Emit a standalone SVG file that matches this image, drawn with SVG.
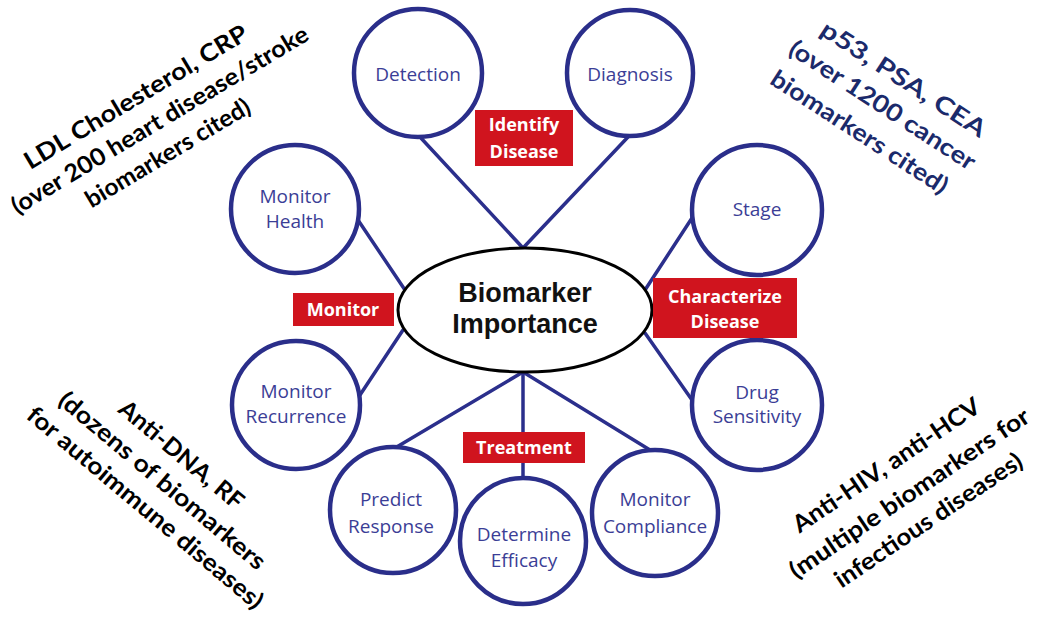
<svg xmlns="http://www.w3.org/2000/svg" width="1037" height="617" viewBox="0 0 1037 617">
<style>
.bg{fill:#ffffff}
.conn{stroke:#2b2f8c;stroke-width:3.5;fill:none;stroke-linecap:round}
.circ{fill:#ffffff;stroke:#2a2e8a;stroke-width:4.5}
.ct{font-family:"Open Sans","Noto Sans",sans-serif;font-size:19px;fill:#3b3e96;text-anchor:middle}
.box{fill:#d0141e}
.bt{font-family:"Open Sans","Noto Sans",sans-serif;font-size:18px;font-weight:700;fill:#ffffff;text-anchor:middle}
.ell{fill:#ffffff;stroke:#000000;stroke-width:3}
.et{font-family:"Liberation Sans",Arial,sans-serif;font-size:27px;font-weight:700;fill:#111111;text-anchor:middle}
.note{font-family:Lato,"Open Sans",sans-serif;font-size:24px;font-weight:700;fill:#000000;text-anchor:middle}
.navy{fill:#1b2a6b}
</style>
<rect class="bg" x="0" y="0" width="1037" height="617"/>
<g id="connectors">
<line class="conn" x1="420" y1="137" x2="523" y2="248"/>
<line class="conn" x1="628" y1="137" x2="523" y2="248"/>
<line class="conn" x1="358" y1="220" x2="405" y2="290"/>
<line class="conn" x1="358" y1="398" x2="403" y2="330"/>
<line class="conn" x1="692" y1="218" x2="645" y2="290"/>
<line class="conn" x1="692" y1="400" x2="645" y2="333"/>
<line class="conn" x1="395" y1="448" x2="523" y2="372"/>
<line class="conn" x1="523" y1="372" x2="523" y2="478"/>
<line class="conn" x1="650" y1="450" x2="523" y2="372"/>
</g>
<g id="center">
<ellipse class="ell" cx="525" cy="310" rx="127" ry="62"/>
<text class="et" x="525" y="302">Biomarker</text>
<text class="et" x="525" y="333">Importance</text>
</g>
<g id="detection"><circle class="circ" cx="418" cy="73" r="64"/><text class="ct" x="418" y="81">Detection</text></g>
<g id="diagnosis"><circle class="circ" cx="630" cy="73" r="63"/><text class="ct" x="630" y="81">Diagnosis</text></g>
<g id="monitor-health"><circle class="circ" cx="295" cy="209" r="64"/><text class="ct" x="295" y="203">Monitor</text><text class="ct" x="295" y="228">Health</text></g>
<g id="monitor-recurrence"><circle class="circ" cx="296" cy="405" r="64"/><text class="ct" x="296" y="398">Monitor</text><text class="ct" x="296" y="423">Recurrence</text></g>
<g id="stage"><circle class="circ" cx="757" cy="210" r="65"/><text class="ct" x="757" y="216">Stage</text></g>
<g id="drug-sensitivity"><circle class="circ" cx="757" cy="405" r="65"/><text class="ct" x="757" y="399">Drug</text><text class="ct" x="757" y="423">Sensitivity</text></g>
<g id="predict-response"><circle class="circ" cx="393" cy="510" r="63"/><text class="ct" x="391" y="506">Predict</text><text class="ct" x="391" y="533">Response</text></g>
<g id="determine-efficacy"><circle class="circ" cx="523" cy="541" r="63"/><text class="ct" x="524" y="541">Determine</text><text class="ct" x="524" y="567">Efficacy</text></g>
<g id="monitor-compliance"><circle class="circ" cx="655" cy="513" r="63"/><text class="ct" x="655" y="506">Monitor</text><text class="ct" x="655" y="533">Compliance</text></g>
<g id="identify-disease"><rect class="box" x="475" y="110" width="98" height="56"/><text class="bt" x="524" y="131">Identify</text><text class="bt" x="524" y="158">Disease</text></g>
<g id="monitor"><rect class="box" x="293" y="293" width="101" height="33"/><text class="bt" x="343" y="316">Monitor</text></g>
<g id="characterize-disease"><rect class="box" x="653" y="278" width="144" height="60"/><text class="bt" x="725" y="303">Characterize</text><text class="bt" x="725" y="328">Disease</text></g>
<g id="treatment"><rect class="box" x="463" y="432" width="122" height="31"/><text class="bt" x="524" y="454">Treatment</text></g>
<g id="note-cardio">
<text class="note" transform="translate(140,104) rotate(-31)" textLength="256" lengthAdjust="spacingAndGlyphs">LDL Cholesterol, CRP</text>
<text class="note" transform="translate(164,127) rotate(-31)" textLength="342" lengthAdjust="spacingAndGlyphs">(over 200 heart disease/stroke</text>
<text class="note" transform="translate(172,160) rotate(-31)" textLength="188" lengthAdjust="spacingAndGlyphs">biomarkers cited)</text>
</g>
<g id="note-cancer">
<text class="note navy" transform="translate(899,86) rotate(33)" textLength="192" lengthAdjust="spacingAndGlyphs">p53, PSA, CEA</text>
<text class="note navy" transform="translate(878,112) rotate(33)" textLength="217" lengthAdjust="spacingAndGlyphs">(over 1200 cancer</text>
<text class="note navy" transform="translate(855,139) rotate(33)" textLength="206" lengthAdjust="spacingAndGlyphs">biomarkers cited)</text>
</g>
<g id="note-autoimmune">
<text class="note" transform="translate(176,461) rotate(40)" textLength="155" lengthAdjust="spacingAndGlyphs">Anti-DNA, RF</text>
<text class="note" transform="translate(157,487) rotate(40)" textLength="262" lengthAdjust="spacingAndGlyphs">(dozens of biomarkers</text>
<text class="note" transform="translate(140,514) rotate(40)" textLength="300" lengthAdjust="spacingAndGlyphs">for autoimmune diseases)</text>
</g>
<g id="note-infectious">
<text class="note" transform="translate(891,472) rotate(-34)" textLength="221" lengthAdjust="spacingAndGlyphs">Anti-HIV, anti-HCV</text>
<text class="note" transform="translate(914,500) rotate(-34)" textLength="284" lengthAdjust="spacingAndGlyphs">(multiple biomarkers for</text>
<text class="note" transform="translate(933,527) rotate(-34)" textLength="221" lengthAdjust="spacingAndGlyphs">infectious diseases)</text>
</g>
</svg>
